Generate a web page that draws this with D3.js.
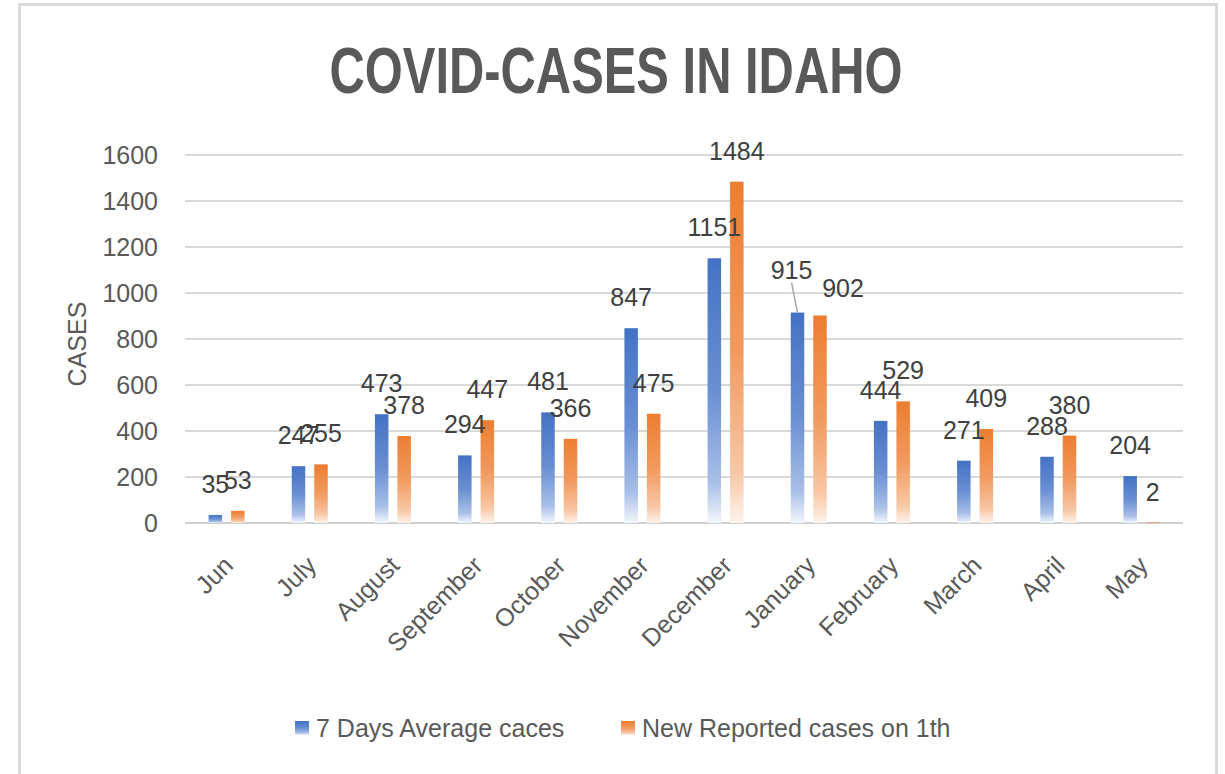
<!DOCTYPE html>
<html>
<head>
<meta charset="utf-8">
<script src="https://cdn.jsdelivr.net/npm/d3@7"></script>
<style>
  body { margin: 0; background: #fff; }
  svg text { font-family: "Liberation Sans", Arial, sans-serif; }
</style>
</head>
<body>
<script>
// data
const months = ["Jun", "July", "August", "September", "October", "November",
                "December", "January", "February", "March", "April", "May"]
const seriesNames = ["7 Days Average caces", "New Reported cases on 1th"]
const avgCases = [35, 247, 473, 294, 481, 847, 1151, 915, 444, 271, 288, 204]
const newCases = [53, 255, 378, 447, 366, 475, 1484, 902, 529, 409, 380, 2]
const yTicks = [0, 200, 400, 600, 800, 1000, 1200, 1400, 1600]

const colors = ["#4472C4", "#ED7D31"]
// a couple of labels were moved by hand in the original
const labelNudge = { "January|0": [-6, -12, true], "January|1": [23, 3, false] }

const W = 1225, H = 774
const margin = { top: 155, left: 185, right: 42, bottom: 251 }

const svg = d3.select("body").append("svg")
    .attr("width", W)
    .attr("height", H)

// chart frame
svg.append("rect")
    .attr("x", 19.5).attr("y", 4.5)
    .attr("width", 1197).attr("height", 820)
    .attr("fill", "#fff")
    .attr("stroke", "#d9d9d9")
    .attr("stroke-width", 3)

// gradients for bars
const defs = svg.append("defs")
const stops = [
    [["0", "#4472C4"], ["0.5", "#6a8fd2"], ["0.85", "#a9c0e8"], ["1", "#f3f6fc"]],
    [["0", "#ED7D31"], ["0.5", "#f19a5f"], ["0.85", "#f8c6a4"], ["1", "#fdf3ec"]]
]
stops.forEach((s, i) => {
    const g = defs.append("linearGradient")
        .attr("id", "grad" + i)
        .attr("x1", 0).attr("y1", 0).attr("x2", 0).attr("y2", 1)
    s.forEach(st => g.append("stop").attr("offset", st[0]).attr("stop-color", st[1]))
})

const x0 = d3.scaleBand()
    .domain(months)
    .range([margin.left, W - margin.right])

const bw = x0.bandwidth()
const x1 = d3.scaleBand()
    .domain([0, 1])
    .range([bw / 2 - 18, bw / 2 + 18])
    .paddingInner(0.4)

const y = d3.scaleLinear()
    .domain([0, 1600])
    .range([H - margin.bottom, margin.top])

// gridlines
svg.append("g")
    .selectAll("line")
    .data(yTicks)
    .join("line")
    .attr("x1", margin.left)
    .attr("x2", W - margin.right)
    .attr("y1", d => y(d))
    .attr("y2", d => y(d))
    .attr("stroke", d => d === 0 ? "#cfcfcf" : "#d9d9d9")
    .attr("stroke-width", 2)

// y tick labels
svg.append("g")
    .selectAll("text")
    .data(yTicks)
    .join("text")
    .attr("x", 158)
    .attr("y", d => y(d))
    .attr("dy", "0.36em")
    .attr("text-anchor", "end")
    .attr("font-size", 25)
    .attr("fill", "#595959")
    .text(d => d)

// y title
svg.append("text")
    .attr("transform", `translate(86,${(y(0) + y(1600)) / 2 + 5}) rotate(-90)`)
    .attr("text-anchor", "middle")
    .attr("font-size", 25)
    .attr("fill", "#595959")
    .text("CASES")

// title
svg.append("text")
    .attr("x", 616)
    .attr("y", 93)
    .attr("text-anchor", "middle")
    .attr("font-size", 64)
    .attr("font-weight", "bold")
    .attr("fill", "#595959")
    .attr("textLength", 573)
    .attr("lengthAdjust", "spacingAndGlyphs")
    .text("COVID-CASES IN IDAHO")

// reshape into one record per bar
let bars = []
months.forEach((m, i) => {
    bars.push({ month: m, s: 0, value: avgCases[i] })
    bars.push({ month: m, s: 1, value: newCases[i] })
})

svg.append("g")
    .selectAll("rect")
    .data(bars)
    .join("rect")
    .attr("x", d => x0(d.month) + x1(d.s))
    .attr("width", x1.bandwidth())
    .attr("y", d => y(d.value))
    .attr("height", d => y(0) - y(d.value))
    .attr("fill", d => `url(#grad${d.s})`)

// data labels
const lab = svg.append("g")
bars.forEach(d => {
    let cx = x0(d.month) + x1(d.s) + x1.bandwidth() / 2
    let cy = y(d.value) - 31
    let nudge = labelNudge[d.month + "|" + d.s]
    if (nudge) {
        cx += nudge[0]
        cy += nudge[1]
        if (nudge[2]) {
            lab.append("line")
                .attr("x1", cx)
                .attr("y1", cy + 13)
                .attr("x2", x0(d.month) + x1(d.s) + x1.bandwidth() / 2)
                .attr("y2", y(d.value))
                .attr("stroke", "#a6a6a6")
                .attr("stroke-width", 1.5)
        }
    }
    lab.append("text")
        .attr("x", cx)
        .attr("y", cy)
        .attr("dy", "0.36em")
        .attr("text-anchor", "middle")
        .attr("font-size", 25)
        .attr("fill", "#404040")
        .text(d.value)
})

// x labels, rotated
svg.append("g")
    .selectAll("text")
    .data(months)
    .join("text")
    .attr("transform", d => `translate(${x0(d) + bw / 2 + 8},567) rotate(-45)`)
    .attr("text-anchor", "end")
    .attr("font-size", 25)
    .attr("fill", "#595959")
    .text(d => d)

// legend
const legendX = [295, 621]
const leg = svg.append("g")
seriesNames.forEach((name, i) => {
    leg.append("rect")
        .attr("x", legendX[i])
        .attr("y", 721)
        .attr("width", 14)
        .attr("height", 14)
        .attr("fill", `url(#grad${i})`)
    leg.append("text")
        .attr("x", legendX[i] + 21)
        .attr("y", 737)
        .attr("font-size", 25)
        .attr("fill", "#595959")
        .text(name)
})
</script>
</body>
</html>
